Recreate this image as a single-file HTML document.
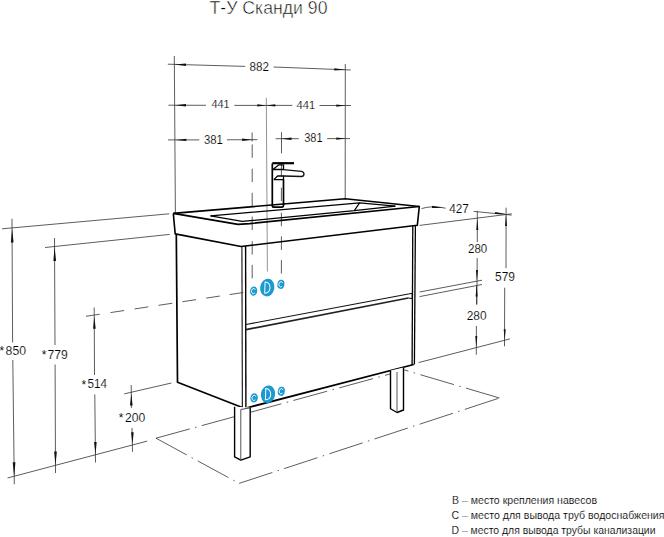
<!DOCTYPE html>
<html><head><meta charset="utf-8"><style>
html,body{margin:0;padding:0;background:#fff;}
body{width:664px;height:537px;overflow:hidden;position:relative;}
svg{position:absolute;left:0;top:0;}
text{font-family:"Liberation Sans",sans-serif;}
</style></head><body>
<svg width="664" height="537" viewBox="0 0 664 537">
<text x="209.5" y="14.3" font-size="17.5" fill="#000" textLength="118" lengthAdjust="spacingAndGlyphs" stroke="#fff" stroke-width="0.5">Т-У Сканди 90</text>
<line x1="174.3" y1="56" x2="175.4" y2="213" stroke="#333" stroke-width="0.8" />
<line x1="345.3" y1="64" x2="345.2" y2="198.7" stroke="#333" stroke-width="0.8" />
<line x1="266.3" y1="97.8" x2="267.4" y2="271.5" stroke="#777" stroke-width="0.8" />
<line x1="167.8" y1="64.2" x2="245.2" y2="66.4" stroke="#333" stroke-width="0.8" />
<line x1="273.5" y1="67" x2="350.8" y2="70" stroke="#333" stroke-width="0.8" />
<path d="M174.50,64.40 L186.03,63.50 L185.96,65.90 Z" fill="#111"/>
<path d="M345.30,69.80 L334.26,70.61 L334.35,68.21 Z" fill="#111"/>
<text x="249.4" y="70.7" font-size="12.4" fill="#000" stroke="#fff" stroke-width="0.149" textLength="19.5" lengthAdjust="spacingAndGlyphs" >882</text>
<line x1="168.4" y1="105.2" x2="206" y2="105.3" stroke="#333" stroke-width="0.8" />
<line x1="234.3" y1="105.4" x2="292.3" y2="105.4" stroke="#333" stroke-width="0.8" />
<line x1="319.5" y1="105.5" x2="351" y2="105.5" stroke="#333" stroke-width="0.8" />
<path d="M175.00,105.20 L186.00,104.00 L186.00,106.40 Z" fill="#111"/>
<path d="M266.30,105.40 L257.30,106.60 L257.30,104.20 Z" fill="#111"/>
<path d="M266.30,105.40 L275.30,104.20 L275.30,106.60 Z" fill="#111"/>
<path d="M345.30,105.60 L336.30,106.80 L336.30,104.40 Z" fill="#111"/>
<text x="211.4" y="108.4" font-size="11.6" fill="#000" stroke="#fff" stroke-width="0.139" textLength="18.1" lengthAdjust="spacingAndGlyphs" >441</text>
<text x="296.6" y="108.6" font-size="11.6" fill="#000" stroke="#fff" stroke-width="0.139" textLength="18.6" lengthAdjust="spacingAndGlyphs" >441</text>
<line x1="168" y1="139.9" x2="199.3" y2="139.9" stroke="#333" stroke-width="0.8" />
<line x1="226.9" y1="139.8" x2="257.4" y2="139.7" stroke="#333" stroke-width="0.8" />
<path d="M175.40,139.90 L186.40,138.70 L186.40,141.10 Z" fill="#111"/>
<path d="M252.10,139.70 L242.10,140.90 L242.10,138.50 Z" fill="#111"/>
<text x="203.9" y="144.4" font-size="12.4" fill="#000" stroke="#fff" stroke-width="0.149" textLength="18.9" lengthAdjust="spacingAndGlyphs" >381</text>
<line x1="275.7" y1="138.7" x2="298.8" y2="138.7" stroke="#333" stroke-width="0.8" />
<line x1="327.2" y1="138.6" x2="350" y2="138.6" stroke="#333" stroke-width="0.8" />
<path d="M281.50,138.70 L291.50,137.50 L291.50,139.90 Z" fill="#111"/>
<path d="M345.30,138.60 L336.30,139.80 L336.30,137.40 Z" fill="#111"/>
<text x="304.2" y="141.8" font-size="12.4" fill="#000" stroke="#fff" stroke-width="0.149" textLength="18.4" lengthAdjust="spacingAndGlyphs" >381</text>
<line x1="252.1" y1="132.4" x2="252.1" y2="141.5" stroke="#333" stroke-width="0.8" />
<line x1="252.2" y1="144.4" x2="252.2" y2="157.8" stroke="#333" stroke-width="0.8" />
<line x1="252.2" y1="168.7" x2="252.2" y2="182.1" stroke="#333" stroke-width="0.8" />
<line x1="252.2" y1="192.8" x2="252.2" y2="206.20000000000002" stroke="#333" stroke-width="0.8" />
<line x1="252.2" y1="216.6" x2="252.2" y2="230.0" stroke="#333" stroke-width="0.8" />
<line x1="252.2" y1="241.2" x2="252.2" y2="254.6" stroke="#333" stroke-width="0.8" />
<line x1="252.2" y1="264.9" x2="252.2" y2="278.29999999999995" stroke="#333" stroke-width="0.8" />
<line x1="281.5" y1="132.2" x2="281.5" y2="153.3" stroke="#333" stroke-width="0.8" />
<line x1="281.4" y1="162.3" x2="281.4" y2="175.8" stroke="#333" stroke-width="0.8" />
<line x1="281.4" y1="187.6" x2="281.4" y2="201.1" stroke="#333" stroke-width="0.8" />
<line x1="281.4" y1="212.7" x2="281.4" y2="226.2" stroke="#333" stroke-width="0.8" />
<line x1="281.4" y1="236.4" x2="281.4" y2="249.9" stroke="#333" stroke-width="0.8" />
<line x1="281.4" y1="260.1" x2="281.4" y2="273.6" stroke="#333" stroke-width="0.8" />
<line x1="156" y1="438.2" x2="404.4" y2="370" stroke="#333" stroke-width="0.8" stroke-dasharray="35 5.5 1.5 5.5"/>
<line x1="156" y1="438.2" x2="239.1" y2="483.4" stroke="#333" stroke-width="0.8" stroke-dasharray="35 5.5 1.5 5.5"/>
<line x1="239.1" y1="483.4" x2="499.5" y2="398" stroke="#333" stroke-width="0.8" stroke-dasharray="35 5.5 1.5 5.5"/>
<line x1="499.5" y1="398" x2="404.4" y2="370" stroke="#333" stroke-width="0.8" stroke-dasharray="35 5.5 1.5 5.5"/>
<path d="M173.3,213.4 L345.2,198.7 L419.3,206.5 L417.3,225.3 L241,246.5 L175.2,233.9 L173.3,213.4" fill="none" stroke="#000" stroke-width="1.6" stroke-linejoin="round" />
<path d="M173.3,213.4 L238,224.4 L249.7,223.6 L419.3,206.5" fill="none" stroke="#000" stroke-width="1.6" stroke-linejoin="round" />
<path d="M210.5,215.8 L359.6,202.9 L395.4,206.1" fill="none" stroke="#000" stroke-width="1.2" stroke-linejoin="round" />
<path d="M210.5,215.8 L242.2,221.4 L354.3,210.7 L359.6,202.9" fill="none" stroke="#000" stroke-width="1.2" stroke-linejoin="round" />
<path d="M354.3,210.7 L395.4,206.2" fill="none" stroke="#000" stroke-width="1.2" stroke-linejoin="round" />
<path d="M272.3,163.4 L272.3,206 Q272.5,207.2 274,207.2 L282,207.2 Q283.5,207 283.5,205.5 L283.5,179.6" fill="none" stroke="#000" stroke-width="1.7"/>
<line x1="272.3" y1="163.2" x2="294" y2="163.2" stroke="#000" stroke-width="2.2" />
<path d="M272.9,169.5 L279,164.8 L283.5,164.8 L283.5,169.5 L272.9,169.5" fill="none" stroke="#000" stroke-width="1.3" stroke-linejoin="round" />
<path d="M273.8,179.6 L277.6,176 L283.5,176 L283.5,179.6 L273.8,179.6" fill="none" stroke="#000" stroke-width="1.3" stroke-linejoin="round" />
<path d="M283.5,169.7 L301.5,171.3 Q304,172 304,174 Q304,176.4 301.5,176.5 L283.5,176" fill="none" stroke="#111" stroke-width="1.3"/>
<path d="M176.3,234 L177.5,382.3 L242.9,407.7" fill="none" stroke="#000" stroke-width="1.7" stroke-linejoin="round" />
<line x1="241.9" y1="246.5" x2="242.4" y2="408" stroke="#222" stroke-width="1.2" />
<line x1="245.6" y1="246" x2="245.9" y2="408" stroke="#000" stroke-width="1.4" />
<line x1="412.8" y1="225.3" x2="412.1" y2="365" stroke="#000" stroke-width="1.3" />
<line x1="415.4" y1="225.3" x2="414.4" y2="364.5" stroke="#000" stroke-width="1.3" />
<path d="M246.3,408 L413.75,364.5" fill="none" stroke="#000" stroke-width="1.8" stroke-linejoin="round" />
<line x1="246" y1="324.5" x2="408.4" y2="294" stroke="#111" stroke-width="1.2" />
<line x1="246" y1="329.6" x2="408.4" y2="298" stroke="#222" stroke-width="1.7" />
<path d="M408.4,294 L412.2,293.3 L412.2,298.6 L408.4,298" fill="none" stroke="#000" stroke-width="1.0" stroke-linejoin="round" />
<path d="M234.6,406.7 L234.6,456.8 L240.8,460.1 L250.2,456.8 L250.2,407.5 Z" fill="#fff" stroke="none"/>
<path d="M234.6,406.7 L234.6,456.8 L240.8,460.1 L250.2,456.8 L250.2,407.5" fill="none" stroke="#000" stroke-width="1.4" stroke-linejoin="round" />
<line x1="240.8" y1="409.5" x2="240.8" y2="459.8" stroke="#555" stroke-width="1" />
<path d="M240.8,409.5 L250.2,407.8" fill="none" stroke="#333" stroke-width="0.9" stroke-linejoin="round" />
<path d="M390.5,370.5 L390.5,408.75 L397,412.5 L403.5,410 L403.5,367.5 Z" fill="#fff" stroke="none"/>
<path d="M390.5,370.5 L390.5,408.75 L397,412.5 L403.5,410 L403.5,367.5" fill="none" stroke="#000" stroke-width="1.4" stroke-linejoin="round" />
<line x1="397" y1="372" x2="397" y2="412" stroke="#555" stroke-width="1" />
<line x1="2" y1="228.8" x2="169.3" y2="213.8" stroke="#333" stroke-width="0.8" />
<line x1="12" y1="218.7" x2="12.6" y2="342.5" stroke="#333" stroke-width="0.8" />
<line x1="12.8" y1="360" x2="14.3" y2="484.3" stroke="#333" stroke-width="0.8" />
<path d="M12.10,228.50 L13.56,242.49 L10.86,242.51 Z" fill="#111"/>
<path d="M14.20,476.80 L12.73,462.31 L15.43,462.29 Z" fill="#111"/>
<text x="-0.5" y="354.6" font-size="12" fill="#111" stroke-width="0">*</text>
<text x="5.6" y="354.9" font-size="12.4" fill="#000" stroke="#fff" stroke-width="0.149" textLength="20.4" lengthAdjust="spacingAndGlyphs" >850</text>
<line x1="45" y1="247.5" x2="169.7" y2="234.4" stroke="#333" stroke-width="0.8" />
<line x1="54.5" y1="238" x2="55" y2="345" stroke="#333" stroke-width="0.8" />
<line x1="55.1" y1="364.5" x2="55.5" y2="473" stroke="#333" stroke-width="0.8" />
<path d="M54.60,247.00 L56.07,260.99 L53.37,261.01 Z" fill="#111"/>
<path d="M55.50,465.50 L54.15,451.50 L56.85,451.50 Z" fill="#111"/>
<text x="41.8" y="359.1" font-size="12" fill="#111" stroke-width="0">*</text>
<text x="47.4" y="358.9" font-size="12.4" fill="#000" stroke="#fff" stroke-width="0.149" textLength="20.4" lengthAdjust="spacingAndGlyphs" >779</text>
<line x1="86" y1="316.3" x2="99.7" y2="314.22714558169105" stroke="#333" stroke-width="0.8" />
<line x1="110.5" y1="312.59307056579786" x2="124.2" y2="310.5202161474889" stroke="#333" stroke-width="0.8" />
<line x1="134.6" y1="308.94666242848064" x2="148.29999999999998" y2="306.8738080101717" stroke="#333" stroke-width="0.8" />
<line x1="158.5" y1="305.33051493960585" x2="172.2" y2="303.2576605212969" stroke="#333" stroke-width="0.8" />
<line x1="182.4" y1="301.7143674507311" x2="196.1" y2="299.64151303242215" stroke="#333" stroke-width="0.8" />
<line x1="206.2" y1="298.11335028607755" x2="219.89999999999998" y2="296.0404958677686" stroke="#333" stroke-width="0.8" />
<line x1="229.6" y1="294.57285441830896" x2="243.29999999999998" y2="292.5" stroke="#333" stroke-width="0.8" />
<line x1="94.2" y1="307.5" x2="94.5" y2="375" stroke="#333" stroke-width="0.8" />
<line x1="94.8" y1="394.5" x2="95.5" y2="462.5" stroke="#333" stroke-width="0.8" />
<path d="M94.30,316.30 L95.71,328.79 L93.11,328.81 Z" fill="#111"/>
<path d="M95.50,454.50 L94.08,442.01 L96.68,441.99 Z" fill="#111"/>
<text x="81.5" y="388.6" font-size="12" fill="#111" stroke-width="0">*</text>
<text x="87.6" y="388.4" font-size="12.4" fill="#000" stroke="#fff" stroke-width="0.149" textLength="19.5" lengthAdjust="spacingAndGlyphs" >514</text>
<line x1="124.2" y1="393.9" x2="171.4" y2="383" stroke="#333" stroke-width="0.8" />
<line x1="131.2" y1="385" x2="131.4" y2="408" stroke="#333" stroke-width="0.8" />
<line x1="132" y1="428" x2="132.5" y2="451.8" stroke="#333" stroke-width="0.8" />
<path d="M131.30,393.50 L132.60,405.50 L130.00,405.50 Z" fill="#111"/>
<path d="M132.50,444.20 L131.09,432.21 L133.69,432.19 Z" fill="#111"/>
<text x="118.7" y="421.9" font-size="12" fill="#111" stroke-width="0">*</text>
<text x="124.9" y="421.7" font-size="12.4" fill="#000" stroke="#fff" stroke-width="0.149" textLength="20.3" lengthAdjust="spacingAndGlyphs" >200</text>
<line x1="7.5" y1="478" x2="147.2" y2="441.1" stroke="#333" stroke-width="0.8" />
<path d="M421.5,208.6 Q432,205.2 445.6,208.2" fill="none" stroke="#333" stroke-width="0.8"/>
<path d="M443.00,208.00 L431.95,207.89 L432.19,205.70 Z" fill="#111"/>
<text x="449.3" y="212.7" font-size="12.4" fill="#000" stroke="#fff" stroke-width="0.149" textLength="19.6" lengthAdjust="spacingAndGlyphs" >427</text>
<line x1="473.6" y1="211.4" x2="511.7" y2="215.1" stroke="#333" stroke-width="0.8" />
<line x1="419.6" y1="225.4" x2="511.7" y2="213.8" stroke="#333" stroke-width="0.8" />
<line x1="477.3" y1="210.9" x2="477.3" y2="242" stroke="#333" stroke-width="0.8" />
<line x1="477.2" y1="258" x2="476.9" y2="304.5" stroke="#333" stroke-width="0.8" />
<path d="M477.30,218.40 L478.30,229.90 L476.30,229.90 Z" fill="#111"/>
<path d="M476.90,281.10 L476.00,270.09 L478.00,270.11 Z" fill="#111"/>
<text x="468" y="252.8" font-size="12.4" fill="#000" stroke="#fff" stroke-width="0.149" textLength="19.2" lengthAdjust="spacingAndGlyphs" >280</text>
<line x1="419.6" y1="292" x2="482" y2="280.2" stroke="#333" stroke-width="0.8" />
<line x1="419.6" y1="296.6" x2="482" y2="284.5" stroke="#333" stroke-width="0.8" />
<line x1="476.5" y1="286" x2="476.5" y2="304.5" stroke="#333" stroke-width="0.8" />
<line x1="476.4" y1="325.9" x2="476.3" y2="354.7" stroke="#333" stroke-width="0.8" />
<path d="M476.60,285.50 L477.60,296.50 L475.60,296.50 Z" fill="#111"/>
<path d="M476.30,347.60 L475.30,336.10 L477.30,336.10 Z" fill="#111"/>
<text x="466.7" y="319.7" font-size="12.4" fill="#000" stroke="#fff" stroke-width="0.149" textLength="19.9" lengthAdjust="spacingAndGlyphs" >280</text>
<line x1="506.1" y1="207.7" x2="506" y2="268.2" stroke="#333" stroke-width="0.8" />
<line x1="504.7" y1="287.7" x2="504.5" y2="346.3" stroke="#333" stroke-width="0.8" />
<path d="M506.00,214.40 L507.00,225.90 L505.00,225.90 Z" fill="#111"/>
<path d="M504.70,340.20 L503.70,329.20 L505.70,329.20 Z" fill="#111"/>
<path d="M506.00,214.00 L494.96,213.95 L495.13,212.06 Z" fill="#111"/>
<text x="495" y="280.5" font-size="12.4" fill="#000" stroke="#fff" stroke-width="0.149" textLength="20" lengthAdjust="spacingAndGlyphs" >579</text>
<line x1="418.6" y1="362.6" x2="509.9" y2="338.9" stroke="#333" stroke-width="0.8" />
<g transform="translate(253.6,291.1) rotate(10)"><ellipse cx="0" cy="0" rx="3.6" ry="4.6" fill="#1a9ad0"/><path d="M1.5,-1.6 A2,2.6 0 1 0 1.5,1.6" fill="none" stroke="#fff" stroke-width="0.85"/></g>
<g transform="translate(267.3,287.6) rotate(10)"><ellipse cx="0" cy="0" rx="7.1" ry="8.9" fill="#1a9ad0"/><path transform="rotate(-8)" d="M-2.4,-5.6 L-2.4,5.6 C4.4,5.8 4.4,-5.8 -2.4,-5.6 Z" fill="none" stroke="#fff" stroke-width="1"/></g>
<g transform="translate(280.9,284.3) rotate(10)"><ellipse cx="0" cy="0" rx="3.5" ry="4.6" fill="#1a9ad0"/><path d="M1.5,-1.6 A2,2.6 0 1 0 1.5,1.6" fill="none" stroke="#fff" stroke-width="0.85"/></g>
<g transform="translate(254.1,397.9) rotate(10)"><ellipse cx="0" cy="0" rx="3.7" ry="4.6" fill="#1a9ad0"/><path d="M1.5,-1.6 A2,2.6 0 1 0 1.5,1.6" fill="none" stroke="#fff" stroke-width="0.85"/></g>
<g transform="translate(268,394.3) rotate(10)"><ellipse cx="0" cy="0" rx="7.1" ry="8.9" fill="#1a9ad0"/><path transform="rotate(-8)" d="M-2.4,-5.6 L-2.4,5.6 C4.4,5.8 4.4,-5.8 -2.4,-5.6 Z" fill="none" stroke="#fff" stroke-width="1"/></g>
<g transform="translate(281.3,391.3) rotate(10)"><ellipse cx="0" cy="0" rx="3.5" ry="4.6" fill="#1a9ad0"/><path d="M1.5,-1.6 A2,2.6 0 1 0 1.5,1.6" fill="none" stroke="#fff" stroke-width="0.85"/></g>
<text x="452" y="504" font-size="10" fill="#000" stroke="#fff" stroke-width="0.120" textLength="145" lengthAdjust="spacingAndGlyphs" >B – место крепления навесов</text>
<text x="451.5" y="519" font-size="10" fill="#000" stroke="#fff" stroke-width="0.120" textLength="213" lengthAdjust="spacingAndGlyphs" >C – место для вывода труб водоснабжения</text>
<text x="451.5" y="534.1" font-size="10" fill="#000" stroke="#fff" stroke-width="0.120" textLength="204" lengthAdjust="spacingAndGlyphs" >D – место для вывода трубы канализации</text>
</svg>
</body></html>
